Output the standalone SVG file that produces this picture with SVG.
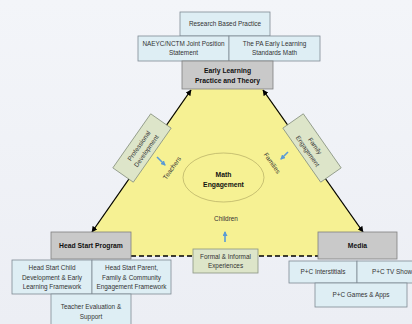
<svg xmlns="http://www.w3.org/2000/svg" width="412" height="324" viewBox="0 0 412 324">
<defs>
<linearGradient id="bg" x1="0" y1="0" x2="0" y2="1">
<stop offset="0" stop-color="#f3f5f9"/>
<stop offset="1" stop-color="#eceef4"/>
</linearGradient>
<marker id="ah" viewBox="0 0 10 10" refX="9" refY="5" markerWidth="6" markerHeight="6" orient="auto-start-reverse" markerUnits="userSpaceOnUse">
<path d="M0,0 L10,5 L0,10 z" fill="#000"/>
</marker>
<marker id="bh" viewBox="0 0 10 10" refX="8" refY="5" markerWidth="5" markerHeight="5" orient="auto" markerUnits="userSpaceOnUse">
<path d="M0,0 L10,5 L0,10 z" fill="#5b9bd5"/>
</marker>
</defs>
<style>
text{font-family:"Liberation Sans",Arial,sans-serif;font-size:6.4px;fill:#333;text-anchor:middle}
.b{font-weight:bold;font-size:6.8px;fill:#111}
.blue{fill:#deeef4;stroke:#7f8a94;stroke-width:0.8}
.gray{fill:#c9c9c9;stroke:#7f7f7f;stroke-width:0.8}
.green{fill:#dde5c9;stroke:#8a9482;stroke-width:0.8}
.edge{stroke:#000;stroke-width:1.3;fill:none}
.barrow{stroke:#5b9bd5;stroke-width:1.6;fill:none}
</style>
<rect x="0" y="0" width="412" height="324" fill="url(#bg)"/>
<polygon points="191,89 263,89 380,256 75,256" fill="#f6f193"/>
<g id="connectors">
<line class="edge" x1="92" y1="232" x2="191" y2="90" marker-start="url(#ah)" marker-end="url(#ah)"/>
<line class="edge" x1="263" y1="90" x2="363" y2="232" marker-start="url(#ah)" marker-end="url(#ah)"/>
<line class="edge" x1="131" y1="256" x2="318" y2="256" stroke-dasharray="5,3"/>
<line class="barrow" x1="157" y1="157" x2="165" y2="165" marker-end="url(#bh)"/>
<line class="barrow" x1="288" y1="152" x2="281" y2="159" marker-end="url(#bh)"/>
<line class="barrow" x1="225" y1="242" x2="225" y2="232" marker-end="url(#bh)"/>
</g>
<g id="research">
<rect class="blue" x="180" y="12" width="90" height="24"/>
<text x="225" y="26">Research Based Practice</text>
</g>
<g id="naeyc">
<rect class="blue" x="138" y="36" width="91" height="25"/>
<text x="183.5" y="45.5">NAEYC/NCTM Joint Position</text>
<text x="183.5" y="55">Statement</text>
</g>
<g id="pa">
<rect class="blue" x="229" y="36" width="91" height="25"/>
<text x="274.5" y="45.5">The PA Early Learning</text>
<text x="274.5" y="55">Standards Math</text>
</g>
<g id="early">
<rect class="gray" x="182" y="61" width="91" height="28"/>
<text class="b" x="227.5" y="72.5">Early Learning</text>
<text class="b" x="227.5" y="83">Practice and Theory</text>
</g>
<g id="profdev" transform="translate(142,148) rotate(-55)">
<rect class="green" x="-33" y="-12.5" width="66" height="25"/>
<text x="0" y="-1.5">Professional</text>
<text x="0" y="7.5">Development</text>
</g>
<g id="familyeng" transform="translate(312,148) rotate(55)">
<rect class="green" x="-33" y="-12.5" width="66" height="25"/>
<text x="0" y="-1.5">Family</text>
<text x="0" y="7.5">Engagement</text>
</g>
<g id="teachers">
<text transform="translate(172,168) rotate(-55)" y="2.2">Teachers</text>
</g>
<g id="families">
<text transform="translate(272,163) rotate(55)" y="2.2">Families</text>
</g>
<g id="math">
<ellipse cx="223.5" cy="177.5" rx="40.5" ry="24.5" fill="none" stroke="#a89f5a" stroke-width="0.6"/>
<text class="b" x="223.5" y="177">Math</text>
<text class="b" x="223.5" y="187">Engagement</text>
</g>
<g id="children">
<text x="226" y="221">Children</text>
</g>
<g id="formal">
<rect class="green" x="193" y="249" width="65" height="24"/>
<text x="225.5" y="258.5">Formal &amp; Informal</text>
<text x="225.5" y="267.5">Experiences</text>
</g>
<g id="headstart">
<rect class="gray" x="51" y="232" width="80" height="27"/>
<text class="b" x="91" y="248">Head Start Program</text>
</g>
<g id="hschild">
<rect class="blue" x="12" y="260" width="80" height="34"/>
<text x="52" y="270">Head Start Child</text>
<text x="52" y="279.5">Development &amp; Early</text>
<text x="52" y="289">Learning Framework</text>
</g>
<g id="hsparent">
<rect class="blue" x="92" y="260" width="79" height="34"/>
<text x="131.5" y="270">Head Start Parent,</text>
<text x="131.5" y="279.5">Family &amp; Community</text>
<text x="131.5" y="289">Engagement Framework</text>
</g>
<g id="teacher">
<rect class="blue" x="51" y="294" width="80" height="32"/>
<text x="91" y="309">Teacher Evaluation &amp;</text>
<text x="91" y="318.5">Support</text>
</g>
<g id="media">
<rect class="gray" x="318" y="232" width="79" height="27"/>
<text class="b" x="357.5" y="248">Media</text>
</g>
<g id="interstitials">
<rect class="blue" x="289" y="261" width="68" height="22"/>
<text x="323" y="274">P+C Interstitials</text>
</g>
<g id="tvshow">
<rect class="blue" x="357" y="261" width="58" height="22"/>
<text x="392" y="274">P+C TV Show</text>
</g>
<g id="games">
<rect class="blue" x="315" y="283" width="92" height="24"/>
<text x="361" y="297">P+C Games &amp; Apps</text>
</g>
</svg>
